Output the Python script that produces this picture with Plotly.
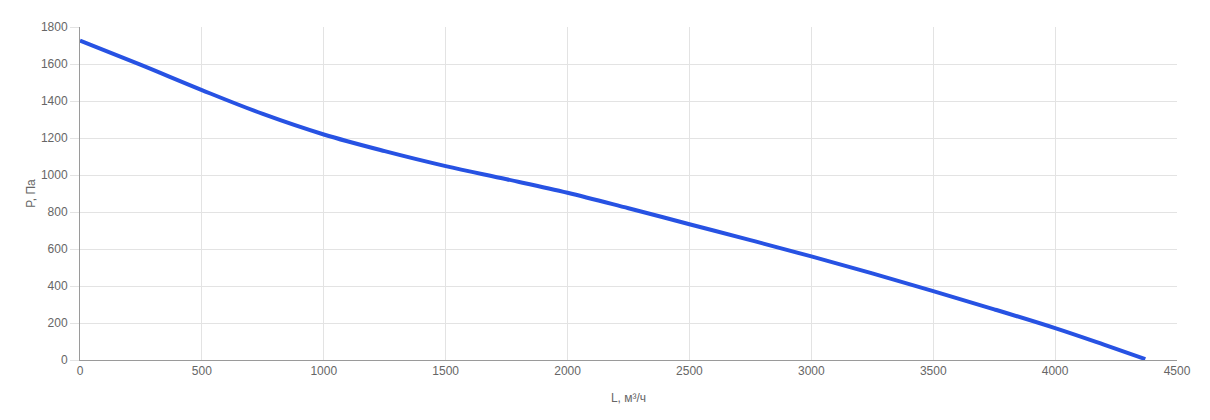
import plotly.graph_objects as go

flow = [0, 250, 500, 750, 1000, 1250, 1500, 1750, 2000, 2250, 2500, 2750, 3000, 3250, 3500, 3750, 4000, 4200, 4370]
pressure = [1727, 1595, 1459, 1330, 1219, 1129, 1048, 977, 904, 820, 734, 648, 560, 468, 372, 274, 172, 83, 5]

x_title = "L, м³/ч"
y_title = "P, Па"

fig = go.Figure()
fig.add_trace(go.Scatter(
    x=flow, y=pressure, mode="lines",
    line=dict(color="#2752e3", width=4, shape="spline", smoothing=1.0),
    hoverinfo="x+y", showlegend=False,
))

font_family = "Liberation Sans, Arial, sans-serif"
fig.update_layout(
    width=1210, height=420,
    margin=dict(l=72, r=41, t=15, b=68),
    paper_bgcolor="white", plot_bgcolor="white",
    font=dict(family=font_family, size=12, color="#666666"),
)
fig.update_xaxes(
    range=[0, 4500], dtick=500, tick0=0,
    showgrid=True, gridcolor="#e3e3e3", gridwidth=1,
    showline=True, linecolor="#9a9a9a", linewidth=1,
    zeroline=False, ticks="",
    title=dict(text=x_title, font=dict(size=12, color="#666666"), standoff=16),
    tickfont=dict(size=12, color="#666666"),
)
fig.update_yaxes(
    range=[0, 1800], dtick=200, tick0=0,
    showgrid=True, gridcolor="#e3e3e3", gridwidth=1,
    showline=True, linecolor="#9a9a9a", linewidth=1,
    zeroline=False, ticks="outside", ticklen=9, tickcolor="#e3e3e3",
    title=dict(text=y_title, font=dict(size=12, color="#666666"), standoff=2),
    tickfont=dict(size=12, color="#666666"),
)
fig.write_html("out.html")
